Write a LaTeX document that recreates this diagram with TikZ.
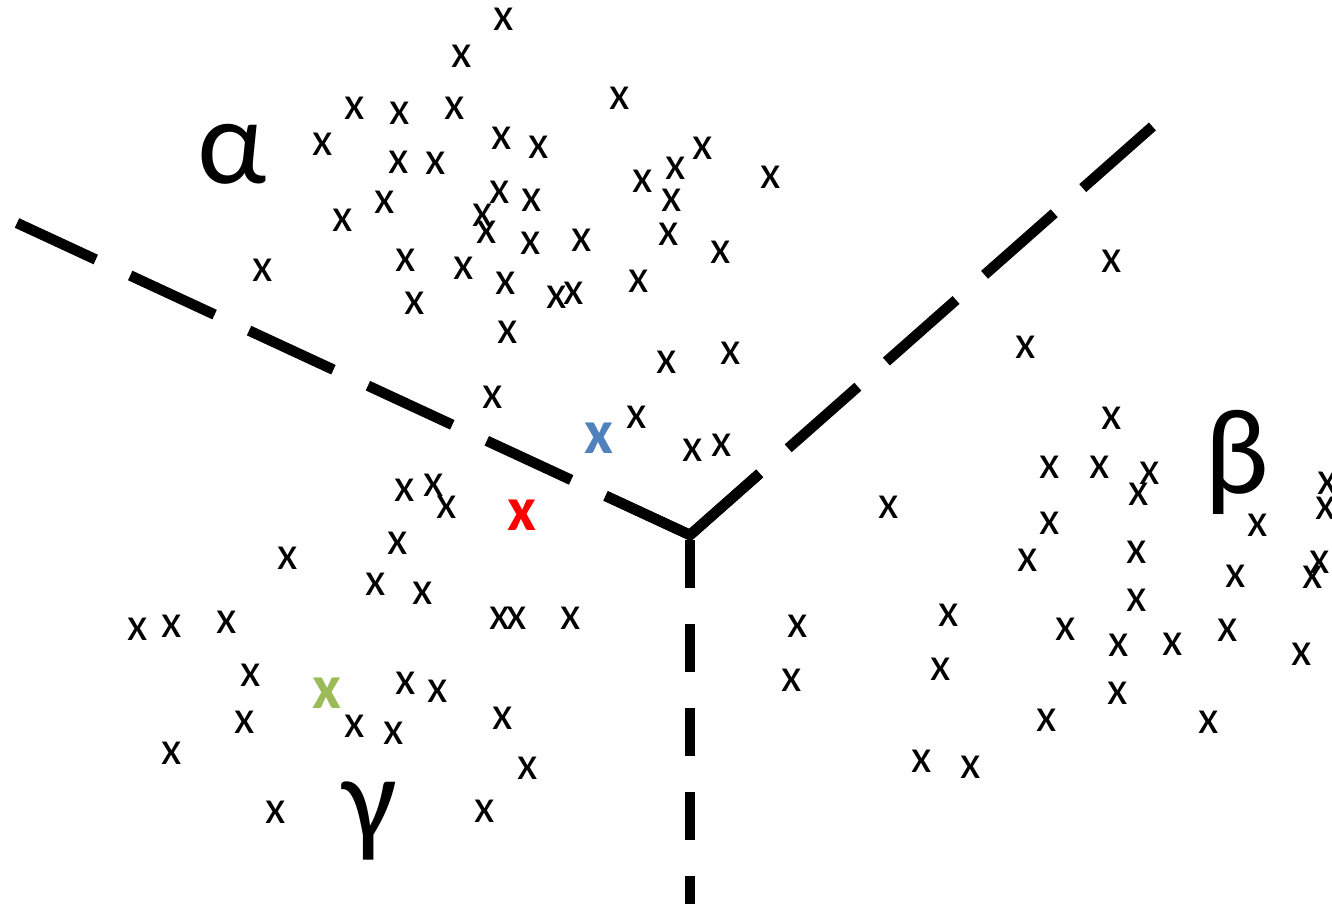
\documentclass[tikz,border=0pt]{standalone}
\usepackage{fontspec}
\setmainfont{Carlito}
\usetikzlibrary{calc}
\definecolor{xblue}{HTML}{4F81BD}
\definecolor{xgreen}{HTML}{9BBB59}
\definecolor{xred}{HTML}{FF0000}
\begin{document}
\begin{tikzpicture}[x=1pt,y=-1pt,
  pt/.style={inner sep=0pt,outer sep=0pt,font=\fontsize{47}{47}\selectfont},
  hl/.style={inner sep=0pt,outer sep=0pt,font=\fontsize{63}{63}\selectfont\bfseries},
  greek/.style={inner sep=0pt,outer sep=0pt,font=\fontsize{122}{122}\selectfont},
  border/.style={line width=10.5pt,line cap=butt},
  diag/.style={border,dash pattern=on 93pt off 38pt},
  vert/.style={border,dash pattern=on 48pt off 36pt,dash phase=79pt}]
\useasboundingbox (0,0) rectangle (1332,904);
\clip (0,0) rectangle (1332,904);
% boundary lines
\coordinate (J) at (690,535);
\coordinate (L) at (17,223);
\coordinate (R) at (1153,126);
\coordinate (B) at (690,910);
\draw[diag] (J) -- (L);
\draw[diag] (J) -- (R);
\draw[vert] (J) -- (B);
\draw[border,line join=miter] ($(J)!93pt!(L)$) -- (J) -- ($(J)!93pt!(R)$);
% sample points
\foreach \p [count=\i] in {
 (504,19),(462,56),(620,98),(355,108),(400,113),(455,108),(323,144),(502,138),
 (539,147),(703,148),(399,162),(436,163),(643,181),(676,168),(771,177),(500,192),
 (385,202),(532,200),(672,200),(343,220),(483,215),(487,232),(531,243),(582,240),
 (669,234),(721,252),(263,270),(406,260),(464,268),(506,283),(557,297),(574,293),
 (639,281),(415,303),(508,332),(667,362),(731,353),(493,397),(637,417),(693,450),
 (722,445),
 (405,490),(434,485),(447,507),(398,543),(288,558),(376,584),(423,593),(138,629),
 (172,626),(227,622),(500,618),(517,618),(571,618),(251,675),(406,683),(438,691),
 (245,722),(355,726),(394,733),(503,718),(172,753),(528,768),(276,812),(485,811),
 (798,626),(792,680),(889,507),
 (1112,261),(1026,347),(1112,418),(1050,467),(1100,467),(1150,473),(1139,494),
 (1328,483),(1326,508),(1050,523),(1258,525),(1028,560),(1137,552),(1236,576),
 (1320,562),(1313,577),(1137,600),(949,615),(1066,629),(1119,645),(1173,644),
 (1228,630),(1302,654),(941,669),(1118,693),(1047,720),(1209,722),(922,761),(971,767)}
 \node[pt] (x\i) at \p {x};
% highlighted points
\node[hl,text=xblue] (xb) at (599,438) {x};
\node[hl,text=xred] (xr) at (522,515) {x};
\node[hl,text=xgreen] (xg) at (327,693) {x};
% class labels
\node[greek] (alpha) at (232,154) {α};
\node[greek] (beta) at (1237,462) {β};
\node[greek] (gamma) at (370,821) {γ};
\end{tikzpicture}
\end{document}
